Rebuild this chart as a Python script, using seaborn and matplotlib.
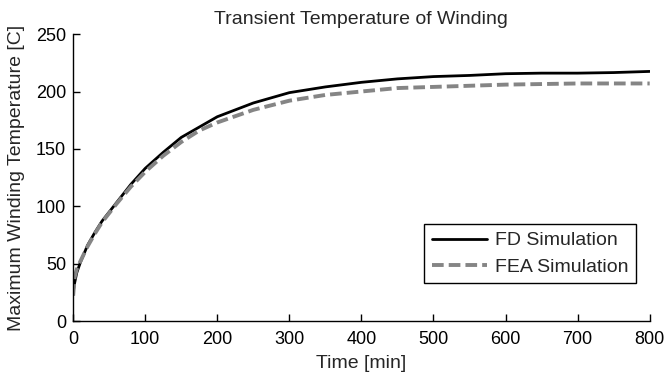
import numpy as np
import pandas as pd
import matplotlib
matplotlib.use("Agg")
import matplotlib.pyplot as plt
import seaborn as sns

time_min = [0, 2, 5, 10, 20, 30, 40, 50, 60, 80, 100, 125, 150, 175, 200,
            250, 300, 350, 400, 450, 500, 550, 600, 650, 700, 750, 800]
fd_temp = [25, 33, 42, 51, 66, 77, 87, 95, 103, 119, 133, 147, 160, 169, 178,
           190, 199, 204, 208, 211, 213, 214, 215.5, 216, 216, 216.5, 217.5]
fea_temp = [22, 38, 45, 52, 65, 76, 86, 94, 102, 117, 130, 144, 156, 166, 173,
            184, 192, 197, 200, 203, 204, 205, 206, 206.5, 207, 207, 207]
series_names = ["FD Simulation", "FEA Simulation"]
x_ticks = [0, 100, 200, 300, 400, 500, 600, 700, 800]
y_ticks = [0, 50, 100, 150, 200, 250]

sns.set_style("ticks")
plt.rcParams["font.family"] = ["Liberation Sans", "DejaVu Sans"]

df = pd.concat([
    pd.DataFrame({"t": time_min, "T": fd_temp, "s": series_names[0]}),
    pd.DataFrame({"t": time_min, "T": fea_temp, "s": series_names[1]}),
])

fig = plt.figure(figsize=(6.65, 3.75), dpi=100)
ax = fig.add_axes([0.110, 0.144, 0.867, 0.765])

sns.lineplot(data=df[df.s == series_names[0]], x="t", y="T", ax=ax,
             color="black", lw=2.0, label=series_names[0])
sns.lineplot(data=df[df.s == series_names[1]], x="t", y="T", ax=ax,
             color="#858585", lw=2.8, label=series_names[1])
ax.lines[1].set_dashes((3, 1.3))

ax.set_xlim(0, 800)
ax.set_ylim(0, 250)
ax.set_xticks(x_ticks)
ax.set_yticks(y_ticks)
ax.tick_params(direction="in", length=5, width=1, labelsize=13, colors="black", pad=5)
ax.tick_params(axis="x", pad=7)
for s in ["top", "right"]:
    ax.spines[s].set_visible(False)
for s in ["left", "bottom"]:
    ax.spines[s].set_linewidth(1)
    ax.spines[s].set_color("black")

ax.set_xlabel("Time [min]", fontsize=14, labelpad=5)
ax.set_ylabel("Maximum Winding Temperature [C]", fontsize=14, labelpad=8)
ax.set_title("Transient Temperature of Winding", fontsize=14, pad=7)

leg = ax.legend(loc="upper right", bbox_to_anchor=(0.977, 0.338), borderaxespad=0,
                fontsize=14, handlelength=2.85, handletextpad=0.4, fancybox=False,
                framealpha=1, edgecolor="black", borderpad=0.4, labelspacing=0.44)
leg.get_frame().set_linewidth(1)

fig.savefig("out.png", dpi=100)
